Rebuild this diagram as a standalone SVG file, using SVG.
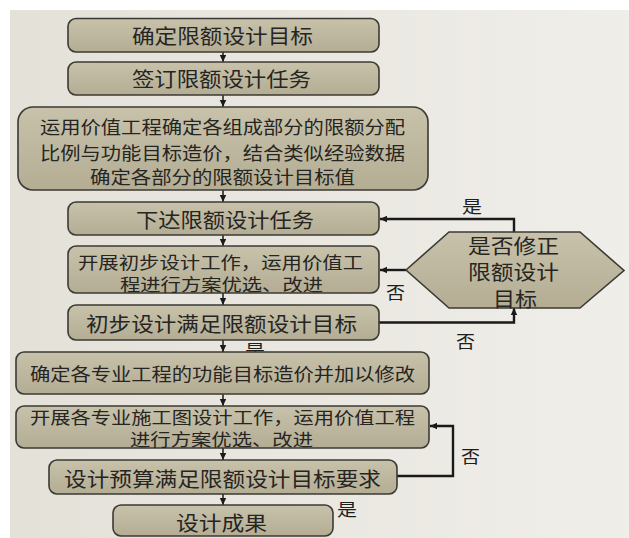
<svg xmlns="http://www.w3.org/2000/svg" width="629" height="538" viewBox="0 0 629 538">
<defs>
<linearGradient id="bg" x1="0" y1="0" x2="1" y2="0">
<stop offset="0" stop-color="#e4e1d9"/>
<stop offset="1" stop-color="#f0eee9"/>
</linearGradient>
<linearGradient id="boxfill" x1="0" y1="0" x2="0" y2="1">
<stop offset="0" stop-color="#c8c2ab"/>
<stop offset="1" stop-color="#b4ad94"/>
</linearGradient>
<marker id="ah" markerUnits="userSpaceOnUse" markerWidth="8" markerHeight="8" refX="7" refY="4" orient="auto">
<path d="M0,0.8 L7,4 L0,7.2 z" fill="#1a1a1a"/>
</marker>
</defs>
<style>
.box{fill:url(#boxfill);stroke:#3b3a34;stroke-width:1.6}
.t{font-family:"Noto Sans CJK SC","Noto Sans CJK JP",sans-serif;fill:#262522;dominant-baseline:central}
.big{font-size:20px}
.sm{font-size:18px}
.xs{font-size:17px}
.lbl{font-family:"Noto Sans CJK SC","Noto Sans CJK JP",sans-serif;fill:#1e1e1e;font-size:17px;dominant-baseline:central}
.c{fill:none;stroke:#1a1a1a;stroke-width:1.5}
.loop{fill:none;stroke:#1a1a1a;stroke-width:2.4}
</style>
<rect x="0" y="0" width="629" height="538" fill="#ffffff"/>
<rect x="10" y="10" width="619" height="528" fill="url(#bg)"/>

<g id="connectors">
<line class="c" x1="223" y1="52" x2="223" y2="62" marker-end="url(#ah)"/>
<line class="c" x1="223" y1="95" x2="223" y2="107" marker-end="url(#ah)"/>
<line class="c" x1="223" y1="190" x2="223" y2="202" marker-end="url(#ah)"/>
<line class="c" x1="223" y1="235" x2="223" y2="246" marker-end="url(#ah)"/>
<line class="c" x1="223" y1="293" x2="223" y2="305" marker-end="url(#ah)"/>
<line class="c" x1="223" y1="340" x2="223" y2="352" marker-end="url(#ah)"/>
<line class="c" x1="223" y1="394" x2="223" y2="406" marker-end="url(#ah)"/>
<line class="c" x1="223" y1="448" x2="223" y2="460" marker-end="url(#ah)"/>
<line class="c" x1="223" y1="494" x2="223" y2="505" marker-end="url(#ah)"/>
<path class="loop" d="M514,232 V219 H380" marker-end="url(#ah)"/>
<path class="loop" d="M406,270 H380" marker-end="url(#ah)"/>
<path class="loop" d="M379,322.5 H514 V308" marker-end="url(#ah)"/>
<path class="loop" d="M397,476 H453 V426 H430" marker-end="url(#ah)"/>
<text class="lbl" x="462" y="205" textLength="20" lengthAdjust="spacingAndGlyphs">是</text>
<text class="lbl" x="386" y="291" textLength="19" lengthAdjust="spacingAndGlyphs">否</text>
<text class="lbl" x="456" y="340" textLength="19" lengthAdjust="spacingAndGlyphs">否</text>
<text class="lbl" x="245" y="349" textLength="20" lengthAdjust="spacingAndGlyphs">是</text>
<text class="lbl" x="461" y="455" textLength="19" lengthAdjust="spacingAndGlyphs">否</text>
<text class="lbl" x="337" y="508" textLength="20" lengthAdjust="spacingAndGlyphs">是</text>
</g>

<g id="n1">
<rect class="box" x="68" y="18.5" width="311" height="33.5" rx="8"/>
<text class="t big" x="132" y="35" textLength="181" lengthAdjust="spacingAndGlyphs">确定限额设计目标</text>
</g>
<g id="n2">
<rect class="box" x="68" y="62" width="311" height="33" rx="8"/>
<text class="t big" x="132" y="78.5" textLength="179" lengthAdjust="spacingAndGlyphs">签订限额设计任务</text>
</g>
<g id="n3">
<rect class="box" x="18" y="107" width="410" height="83" rx="15"/>
<text class="t sm" x="40" y="126" textLength="365" lengthAdjust="spacingAndGlyphs">运用价值工程确定各组成部分的限额分配</text>
<text class="t sm" x="40" y="151.5" textLength="365" lengthAdjust="spacingAndGlyphs">比例与功能目标造价，结合类似经验数据</text>
<text class="t sm" x="90" y="176" textLength="265" lengthAdjust="spacingAndGlyphs">确定各部分的限额设计目标值</text>
</g>
<g id="n4">
<rect class="box" x="68" y="202" width="311" height="33" rx="8"/>
<text class="t big" x="136" y="219.5" textLength="178" lengthAdjust="spacingAndGlyphs">下达限额设计任务</text>
</g>
<g id="n5">
<rect class="box" x="68" y="246" width="311" height="47" rx="8"/>
<text class="t xs" x="78" y="261" textLength="285" lengthAdjust="spacingAndGlyphs">开展初步设计工作，运用价值工</text>
<text class="t xs" x="120" y="283" textLength="203" lengthAdjust="spacingAndGlyphs">程进行方案优选、改进</text>
</g>
<g id="n6">
<rect class="box" x="68" y="305" width="311" height="35" rx="8"/>
<text class="t big" x="86" y="323" textLength="271" lengthAdjust="spacingAndGlyphs">初步设计满足限额设计目标</text>
</g>
<g id="n7">
<rect class="box" x="16" y="352" width="413" height="42" rx="8"/>
<text class="t sm" x="30" y="373" textLength="385" lengthAdjust="spacingAndGlyphs">确定各专业工程的功能目标造价并加以修改</text>
</g>
<g id="n8">
<rect class="box" x="16" y="406" width="413" height="42" rx="8"/>
<text class="t xs" x="30" y="416" textLength="385" lengthAdjust="spacingAndGlyphs">开展各专业施工图设计工作，运用价值工程</text>
<text class="t xs" x="130" y="438" textLength="183" lengthAdjust="spacingAndGlyphs">进行方案优选、改进</text>
</g>
<g id="n9">
<rect class="box" x="49" y="460" width="348" height="34" rx="8"/>
<text class="t big" x="64" y="478" textLength="317" lengthAdjust="spacingAndGlyphs">设计预算满足限额设计目标要求</text>
</g>
<g id="n10">
<rect class="box" x="113" y="505" width="220" height="31" rx="8"/>
<text class="t big" x="176" y="522" textLength="91" lengthAdjust="spacingAndGlyphs">设计成果</text>
</g>
<g id="n11">
<polygon class="box" points="406,270 449,232 580,232 624,270.5 580,308 449,308"/>
<text class="t big" x="468" y="245" textLength="91" lengthAdjust="spacingAndGlyphs">是否修正</text>
<text class="t big" x="468" y="271" textLength="91" lengthAdjust="spacingAndGlyphs">限额设计</text>
<text class="t big" x="493" y="298" textLength="44" lengthAdjust="spacingAndGlyphs">目标</text>
</g>
</svg>
